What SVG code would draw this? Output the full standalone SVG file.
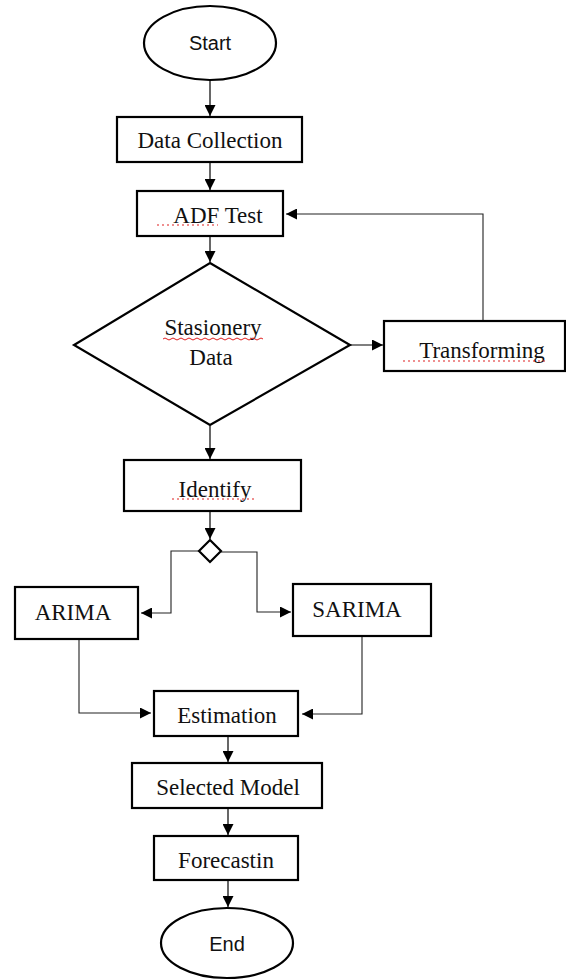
<svg xmlns="http://www.w3.org/2000/svg" width="566" height="980" viewBox="0 0 566 980">
<style>
.box{fill:#fff;stroke:#000;stroke-width:2.2}
.con{fill:none;stroke:#000;stroke-width:1.2}
.conl{fill:none;stroke:#222;stroke-width:1.1}
.t{font-family:"Liberation Serif","Times New Roman",serif;font-size:23px;fill:#111;text-anchor:middle}
.s{font-family:"Liberation Sans",Arial,sans-serif;font-size:20px;fill:#111;text-anchor:middle}
.sp{fill:none;stroke:#e02020;stroke-width:1.2;stroke-dasharray:2 3}
.wv{fill:none;stroke:#e02020;stroke-width:1}
</style>
<defs>
<marker id="ah" viewBox="0 0 10 10" refX="10" refY="5" markerWidth="11" markerHeight="11" markerUnits="userSpaceOnUse" orient="auto">
<path d="M0,0 L10,5 L0,10 z" fill="#000"/>
</marker>
</defs>
<rect width="566" height="980" fill="#fff"/>
<g id="connectors">
<line class="con" x1="210" y1="80" x2="210" y2="116" marker-end="url(#ah)"/>
<line class="con" x1="210" y1="162" x2="210" y2="190" marker-end="url(#ah)"/>
<line class="con" x1="210" y1="236" x2="210" y2="262" marker-end="url(#ah)"/>
<line class="con" x1="350" y1="345" x2="383" y2="345" marker-end="url(#ah)"/>
<polyline class="conl" points="483,320 483,214 286,214" marker-end="url(#ah)"/>
<line class="con" x1="210" y1="426" x2="210" y2="459" marker-end="url(#ah)"/>
<line class="con" x1="210" y1="511" x2="210" y2="539" marker-end="url(#ah)"/>
<polyline class="conl" points="200,551 171,551 171,613 141,613" marker-end="url(#ah)"/>
<polyline class="conl" points="221,552 257,552 257,612 291,612" marker-end="url(#ah)"/>
<polyline class="conl" points="79,639 79,713 151,713" marker-end="url(#ah)"/>
<polyline class="conl" points="362,636 362,714 302,714" marker-end="url(#ah)"/>
<line class="con" x1="228" y1="737" x2="228" y2="762" marker-end="url(#ah)"/>
<line class="con" x1="228" y1="809" x2="228" y2="835" marker-end="url(#ah)"/>
<line class="con" x1="228" y1="881" x2="228" y2="907" marker-end="url(#ah)"/>
</g>
<g id="start">
<ellipse class="box" cx="210" cy="43" rx="66" ry="37" stroke-width="1.8"/>
<text class="s" x="210" y="50">Start</text>
</g>
<g id="data-collection">
<rect class="box" x="117" y="117" width="185" height="45"/>
<text class="t" x="210" y="148">Data Collection</text>
</g>
<g id="adf-test">
<rect class="box" x="137" y="191" width="146" height="45"/>
<text class="t" x="218" y="223">ADF Test</text>
<line class="sp" x1="157" y1="225" x2="218" y2="225"/>
</g>
<g id="stasionery">
<polygon class="box" points="210,263 350,345 210,425 74,345"/>
<text class="t" x="213" y="335">Stasionery</text>
<text class="t" x="211" y="365">Data</text>
<path class="wv" d="M163,339 q2,-2 4,0 t4,0 t4,0 t4,0 t4,0 t4,0 t4,0 t4,0 t4,0 t4,0 t4,0 t4,0 t4,0 t4,0 t4,0 t4,0 t4,0 t4,0 t4,0 t4,0 t4,0 t4,0 t4,0 t4,0 t4,0"/>
</g>
<g id="transforming">
<rect class="box" x="384" y="321" width="181" height="50"/>
<text class="t" x="482" y="358">Transforming</text>
<line class="sp" x1="403" y1="361" x2="548" y2="361"/>
</g>
<g id="identify">
<rect class="box" x="124" y="460" width="177" height="51"/>
<text class="t" x="215" y="497">Identify</text>
<line class="sp" x1="172" y1="499" x2="255" y2="499"/>
</g>
<g id="split">
<polygon class="box" points="210,540 221,551 210,562 199,551" stroke-width="1.8"/>
</g>
<g id="arima">
<rect class="box" x="15" y="587" width="123" height="52"/>
<text class="t" x="73" y="620">ARIMA</text>
</g>
<g id="sarima">
<rect class="box" x="293" y="584" width="138" height="52"/>
<text class="t" x="357" y="617">SARIMA</text>
</g>
<g id="estimation">
<rect class="box" x="154" y="691" width="144" height="45"/>
<text class="t" x="227" y="723">Estimation</text>
</g>
<g id="selected-model">
<rect class="box" x="132" y="763" width="190" height="45"/>
<text class="t" x="228" y="795">Selected Model</text>
</g>
<g id="forecastin">
<rect class="box" x="154" y="836" width="144" height="44"/>
<text class="t" x="226" y="868">Forecastin</text>
</g>
<g id="end">
<ellipse class="box" cx="227" cy="943" rx="66" ry="35" stroke-width="1.8"/>
<text class="s" x="227" y="951">End</text>
</g>
</svg>
